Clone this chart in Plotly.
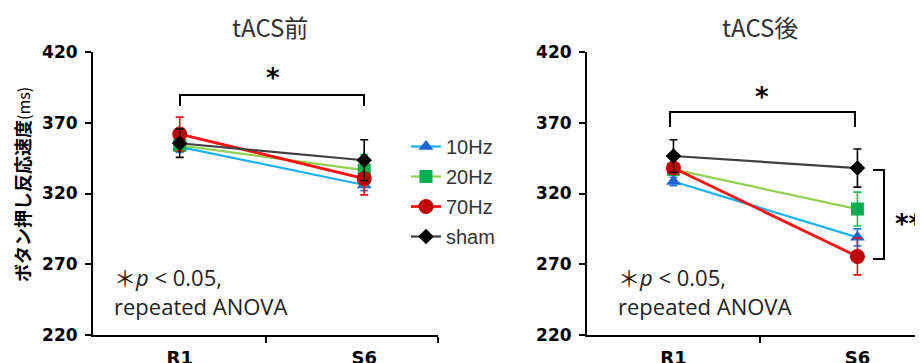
import plotly.graph_objects as go

# ---------------- data ----------------
categories = ["R1", "S6"]
cat_pos = [1, 2]
series = ["10Hz", "20Hz", "70Hz", "sham"]

pre_values = {
    "10Hz": [353, 326],
    "20Hz": [354, 336.5],
    "70Hz": [362, 330.5],
    "sham": [355.5, 343.5],
}
pre_errors = {
    "10Hz": [4, 4],
    "20Hz": [4, 11],
    "70Hz": [12, 11.5],
    "sham": [10, 14.5],
}
post_values = {
    "10Hz": [328.5, 289],
    "20Hz": [337, 309],
    "70Hz": [338, 275.5],
    "sham": [346.5, 338],
}
post_errors = {
    "10Hz": [3, 6],
    "20Hz": [3, 12],
    "70Hz": [3, 13],
    "sham": [11.5, 13.5],
}
y_ticks = [220, 270, 320, 370, 420]

# ---------------- styles ----------------
line_colors = {"10Hz": "#1AB2F5", "20Hz": "#92D050", "70Hz": "#FF1010", "sham": "#404040"}
marker_colors = {"10Hz": "#1E64D2", "20Hz": "#00B050", "70Hz": "#C00000", "sham": "#000000"}
err_colors = {"10Hz": "#2A7DE1", "20Hz": "#10C050", "70Hz": "#E81010", "sham": "#000000"}
symbols = {"10Hz": "triangle-up", "20Hz": "square", "70Hz": "circle", "sham": "diamond"}
msizes = {"10Hz": 13, "20Hz": 13, "70Hz": 15, "sham": 12}
lwidths = {"10Hz": 2.2, "20Hz": 2.2, "70Hz": 2.8, "sham": 2.2}

W, H = 923, 363
OFF = 8  # page offset of the plot div
T = 52 - OFF
B = H - (335 - OFF)
PH = H - T - B


def fx(xpx):
    return (xpx - OFF) / W


def py(ypx):
    return (H - B - (ypx - OFF)) / PH


fig = go.Figure()

for panel, (vals, errs) in enumerate([(pre_values, pre_errors), (post_values, post_errors)]):
    xa = "x" if panel == 0 else "x2"
    ya = "y" if panel == 0 else "y2"
    for i, s in enumerate(series):
        fig.add_trace(go.Scatter(
            x=cat_pos, y=vals[s], name=s, mode="lines+markers",
            xaxis=xa, yaxis=ya,
            legendgroup="g%d" % i, showlegend=(panel == 0),
            line=dict(color=line_colors[s], width=lwidths[s]),
            marker=dict(symbol=symbols[s], size=msizes[s], color=marker_colors[s],
                        line=dict(width=0)),
            error_y=dict(type="data", array=errs[s], visible=True,
                         color=err_colors[s], thickness=1.6, width=4),
        ))

axis_common = dict(
    showline=True, linecolor="black", linewidth=2, showgrid=False, zeroline=False,
)
tickfont = dict(family="DejaVu Sans", size=17, color="black", weight="bold")
xtickfont = dict(family="DejaVu Sans", size=18, color="black", weight="bold")

fig.update_layout(
    width=W, height=H,
    margin=dict(l=0, r=0, t=T, b=B),
    paper_bgcolor="white", plot_bgcolor="white",
    xaxis=dict(domain=[fx(93), fx(438)], range=[0.53, 2.4], tickvals=cat_pos, ticktext=categories,
               ticks="", tickfont=xtickfont, ticklabelstandoff=5,
               minor=dict(tickvals=[1.47, 2.4], ticks="outside", ticklen=6, tickwidth=2, tickcolor="black"),
               **axis_common),
    yaxis=dict(range=[220, 420], tickvals=y_ticks, ticks="outside", ticklen=6, tickwidth=2,
               tickcolor="black", tickfont=tickfont, ticklabelstandoff=4, **axis_common),
    xaxis2=dict(domain=[fx(587), 1.0], range=[0.53, 2.4], tickvals=cat_pos, ticktext=categories,
                ticks="", tickfont=xtickfont, ticklabelstandoff=5, anchor="y2",
                minor=dict(tickvals=[1.47], ticks="outside", ticklen=6, tickwidth=2, tickcolor="black"),
                **axis_common),
    yaxis2=dict(range=[220, 420], tickvals=y_ticks, ticks="outside", ticklen=6, tickwidth=2,
                tickcolor="black", tickfont=tickfont, ticklabelstandoff=4, anchor="x2", **axis_common),
    legend=dict(x=fx(406), xanchor="left", y=py(127), yanchor="top",
                font=dict(family="Liberation Sans", size=20, color="#333333"),
                bgcolor="rgba(0,0,0,0)", tracegroupgap=1, itemwidth=30),
    showlegend=True,
)

note_font = dict(family="Open Sans, Noto Sans CJK JP", size=22, color="#222222")
annotations = [
    dict(text="tACS前", x=fx(270), y=py(26), xref="paper", yref="paper", showarrow=False,
         xanchor="center", yanchor="middle",
         font=dict(family="Noto Sans CJK JP", size=24, color="#333333")),
    dict(text="tACS後", x=fx(760), y=py(26), xref="paper", yref="paper", showarrow=False,
         xanchor="center", yanchor="middle",
         font=dict(family="Noto Sans CJK JP", size=24, color="#333333")),
    dict(text="<b>ボタン押し反応速度</b><span style='font-size:16px'>(ms)</span>",
         x=fx(22), y=py(185), xref="paper", yref="paper", showarrow=False, textangle=-90,
         xanchor="center", yanchor="middle",
         font=dict(family="Noto Sans CJK JP", size=18, color="black")),
    dict(text="＊<i>p</i> &lt; 0.05,<br>repeated ANOVA", x=fx(112), y=py(291), xref="paper", yref="paper",
         showarrow=False, align="left", xanchor="left", yanchor="middle", font=note_font),
    dict(text="＊<i>p</i> &lt; 0.05,<br>repeated ANOVA", x=fx(616), y=py(291), xref="paper", yref="paper",
         showarrow=False, align="left", xanchor="left", yanchor="middle", font=note_font),
    dict(text="<b>*</b>", x=fx(273), y=py(78), xref="paper", yref="paper", showarrow=False,
         xanchor="center", yanchor="middle",
         font=dict(family="DejaVu Sans", size=26, color="black")),
    dict(text="<b>*</b>", x=fx(762), y=py(97), xref="paper", yref="paper", showarrow=False,
         xanchor="center", yanchor="middle",
         font=dict(family="DejaVu Sans", size=26, color="black")),
    dict(text="<b>**</b>", x=fx(893), y=py(224), xref="paper", yref="paper", showarrow=False,
         xanchor="left", yanchor="middle", font=dict(family="DejaVu Sans", size=26, color="black")),
]
fig.update_layout(annotations=annotations)

br = dict(color="black", width=2)


def bracket(pts):
    p = "M %f %f" % (fx(pts[0][0]), py(pts[0][1]))
    for x, y in pts[1:]:
        p += " L %f %f" % (fx(x), py(y))
    return dict(type="path", xref="paper", yref="paper", path=p, line=br)


shapes = [
    bracket([(180, 106), (180, 95), (364, 95), (364, 106)]),
    bracket([(670, 127), (670, 112), (855, 112), (855, 127)]),
    bracket([(873, 170), (884, 170), (884, 259), (873, 259)]),
]
fig.update_layout(shapes=shapes)

fig.write_html("out.html")
